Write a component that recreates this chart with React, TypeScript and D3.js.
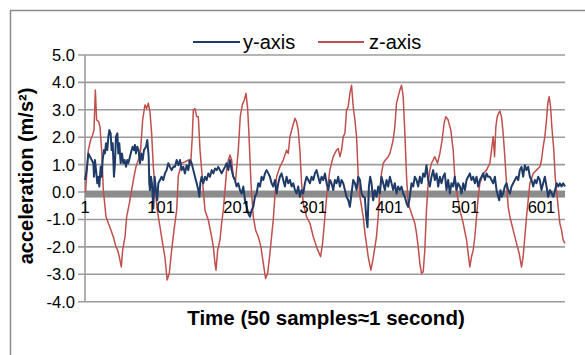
import React from "react";
import * as d3 from "d3";

// [sample index, acceleration m/s²]
const yAxisSeries: [number, number][] = [
  [1,0.44],[3.2,0.8],[5.4,1.41],[7.6,1.29],[9.8,1.17],[12,1.05],[12.8,0.56],[14.1,1.17],[15.5,0.8],[17.2,0.32],[18.5,0.56],[19.8,0.2],[21.6,0.92],[22.9,0.56],[24.2,1.17],[26,1.53],[27.3,1.41],[28.6,1.78],[30.3,1.53],[31.7,2.02],[33,2.26],[34.7,2.14],[36,1.53],[37.4,1.78],[39.1,0.56],[40.4,1.05],[41.7,2.02],[43.5,2.14],[44.8,1.41],[46.1,1.78],[47.9,1.05],[49.6,1.41],[51.4,1.05],[53.1,1.17],[54.9,0.92],[56.6,1.17],[57.9,1.05],[60.1,1.29],[62.3,1.53],[63.6,1.65],[65.4,1.53],[66.7,1.72],[68,1.41],[69.8,1.65],[71.5,1.53],[73.3,1.05],[75,1.41],[76.8,1.17],[78.5,1.53],[81.2,1.65],[82.9,1.9],[84.7,1.29],[85.5,0.32],[86.4,0.07],[87.7,0.56],[89,0.32],[90.8,-0.6],[92.5,0.56],[94.3,0.07],[96,-0.3],[97.4,0.32],[99.6,0.44],[101.7,0.56],[103.9,0.44],[106.1,0.68],[108.3,0.8],[110.5,1.05],[112.7,0.92],[114.9,0.8],[117.1,0.92],
  [119.3,0.92],[121.5,1.17],[123.7,0.98],[125.9,1.17],[128,0.8],[130.2,0.92],[132.4,0.68],[134.6,0.98],[136.8,0.8],[139,1.17],[141.2,1.05],[143.4,0.8],[145.6,0.56],[147.8,0.32],[150,0.07],[151.3,-0.17],[152.6,0.32],[154.3,0.56],[156.5,0.32],[158.7,0.56],[160.9,0.44],[163.1,0.68],[165.3,0.56],[167.5,0.8],[169.7,0.68],[171.9,0.86],[174.1,0.8],[176.2,0.92],[178.4,0.8],[180.6,0.68],[182.8,0.8],[185,0.92],[187.2,1.05],[189.4,0.8],[191.6,1.17],[193.8,0.8],[196,0.56],[198.1,0.44],[200.3,0.2],[202.5,0.32],[204.7,0.07],[206.9,-0.05],[209.1,0.2],[211.3,-0.29],[213.5,-0.54],[215.7,-0.78],[217.9,-0.9],[220,-0.66],[222.2,-0.54],[224.4,-0.17],[226.6,-0.05],[228.8,0.32],[231,0.2],[233.2,0.56],[235.4,0.44],[237.6,0.68],[239.8,0.8],[242,0.68],
  [244.1,0.56],[246.3,0.32],[248.5,0.2],[250.7,0.44],[252.9,-0.05],[255.1,0.32],[257.2,0.56],[259.4,0.68],[261.6,0.44],[263.8,0.2],[266,0.56],[268.2,0.32],[270.4,0.44],[272.6,0.2],[274.8,0.32],[277,0.07],[279.1,-0.05],[281.3,0.2],[283.5,-0.17],[285.7,0.07],[287.9,-0.05],[290.1,0.32],[292.3,0.56],[294.5,0.44],[296.7,0.32],[298.9,0.56],[301.1,0.44],[303.2,0.68],[305.4,0.8],[307.6,0.56],[309.8,0.32],[312,0.56],[314.2,0.44],[316.4,0.68],[318.6,0.32],[320.8,0.07],[323,0.44],[325.1,0.32],[327.3,0.07],[329.5,0.44],[331.7,0.32],[333.9,0.56],[336.1,0.2],[338.3,0.44],[340.5,0.32],[342.7,0.07],[344.8,-0.17],[347,-0.29],[349.2,-0.54],[351.4,-0.05],[353.6,0.44],[355.8,0.32],[358,0.07],[360.2,0.56],[362.4,0.44],[364.6,-0.05],[366.7,-0.17],
  [368.9,-0.2],[370.7,-0.9],[372.4,-1.28],[374.2,0.2],[375.9,0.56],[377.7,0.32],[379.8,-0.3],[382,0.07],[384.2,-0.17],[386.4,0.2],[388.6,-0.05],[390.8,0.56],[393,0.32],[395.2,0.07],[397.4,0.44],[399.6,0.2],[401.8,0.56],[404,0.32],[406.1,0.07],[408.3,0.32],[410.5,-0.05],[412.7,0.2],[414.9,0.07],[417.1,0.2],[419.3,-0.05],[421.5,-0.17],[423.7,-0.41],[425.8,-0.54],[428,-0.17],[430.2,0.32],[432.4,0.2],[434.6,0.56],[436.8,0.44],[439,0.2],[441.2,0.56],[443.4,0.32],[445.6,0.68],[447.7,0.56],[449.9,0.98],[452.1,0.44],[454.3,0.2],[456.5,0.56],[458.7,0.8],[460.9,0.44],[463.1,0.68],[465.3,0.2],[467.5,0.56],[469.6,0.32],[471.8,0.56],[474,0.68],[476.2,0.07],[478.4,0.44],[480.6,-0.05],[482.8,0.32],[485,0.2],[487.1,0.56],[489.3,0.07],[491.5,0.32],
  [493.8,0.2],[496,-0.05],[498.2,0.32],[500.4,0.07],[502.6,0.44],[504.7,0.56],[506.9,0.68],[509.1,0.44],[511.3,0.56],[513.5,0.32],[515.7,0.56],[517.9,0.2],[520.1,0.44],[522.3,0.56],[524.5,0.68],[526.7,0.44],[528.8,0.68],[531,0.56],[533.2,0.56],[535.4,0.44],[537.6,0.32],[539.8,0.56],[542,0.07],[544.2,-0.17],[545.5,-0.3],[547.2,0.07],[549,-0.17],[550.7,-0.05],[552.9,0.2],[555.1,0.32],[557.3,0.07],[559.5,-0.05],[561.7,0.2],[563.9,0.32],[566.1,0.44],[568.3,0.56],[570.5,0.44],[572.6,0.8],[574.8,0.92],[577,0.56],[579.2,0.98],[581.4,0.8],[583.6,0.92],[585.8,0.56],[588,0.44],[590.2,0.2],[592.4,0.44],[594.5,0.32],[596.7,0.56],[598.9,0.44],[601.1,0.07],[603.3,0.32],[605.5,0.56],[607.7,0.2],[609.9,-0.17],[612.3,0.07],[614.5,-0.05],[616.7,-0.17],[618.9,0.07],[621,0.32],[623.2,0.2],[625.2,0.32],[627.4,0.2],[629.6,0.32],[632,0.2]
];

const zAxisSeries: [number, number][] = [
  [1,0.0],[1.9,0.07],[5.4,1.53],[8.4,1.9],[11,2.08],[12.8,2.26],[14.6,3.72],[16.3,2.63],[19,2.57],[20.7,2.38],[22.9,1.53],[25.1,0.07],[28.6,-0.9],[31.7,-1.14],[35.2,-1.39],[38.2,-1.63],[41.7,-2.0],[43.9,-2.12],[46.1,-2.36],[48.7,-2.73],[50.5,-2.12],[53.6,-1.63],[55.8,-0.9],[59.3,-0.41],[62.3,0.07],[65.4,0.56],[68,0.92],[71.1,1.17],[74.1,1.53],[76.8,2.63],[79.8,3.18],[82,3.05],[84.2,3.24],[86.4,2.93],[88.6,2.14],[90.8,0.92],[93.4,0.07],[96,-0.66],[99.6,-1.27],[103,-1.87],[106,-2.36],[109,-3.21],[111.8,-2.97],[114.9,-2.12],[118,-1.39],[121.5,-0.66],
  [123.7,0.6],[128,1.05],[132.4,1.1],[136.8,1.17],[139.9,0.98],[142,2.0],[143.4,2.99],[145.6,3.05],[147.8,2.75],[150,2.75],[152.2,1.53],[156.5,0.07],[158.7,-0.66],[163.1,-1.02],[167.5,-1.63],[169.7,-2.0],[171.9,-2.6],[173.2,-2.85],[175.4,-2.12],[178.4,-1.75],[180.6,-1.14],[182.8,-0.66],[185,0.07],[187.2,0.8],[189.4,1.17],[191.6,1.35],[193.8,1.17],[196,0.56],[199,0.44],[202.5,1.53],[205.1,2.75],[207.8,3.18],[210.4,3.36],[212.6,3.6],[214.8,3.05],[216.5,2.14],[219.2,0.32],[222.2,-0.9],[225.3,-1.39],[228.8,-1.63],[232.3,-2.0],[235.4,-2.6],[238.4,-3.15],[241.1,-2.97],[244.1,-2.24],
  [248.5,-1.0],[251,0.0],[252.9,0.56],[257.2,0.92],[261.6,1.17],[266,1.53],[268.2,1.41],[270.4,2.02],[273.9,2.38],[277,2.69],[279.1,2.57],[281.3,2.26],[283.5,1.53],[285.7,0.32],[287.9,-0.41],[292.3,-0.9],[296.7,-1.14],[301.1,-1.63],[305.4,-2.0],[308.9,-2.24],[310.7,-2.36],[313.3,-1.87],[316.4,-0.9],[319.4,0.07],[322.9,0.8],[327.3,1.29],[331.7,1.53],[333.9,1.59],[336.1,1.29],[338.3,1.53],[340.5,2.02],[342.7,2.14],[344.8,2.99],[347,3.11],[349.2,3.6],[351.4,3.9],[353.6,3.11],[355.8,2.63],[358,2.02],[360.2,0.56],[362.4,-0.17],[366.7,-0.9],
  [369,-1.5],[373.3,-2.36],[376.8,-2.85],[379.8,-2.42],[384.2,-1.63],[386.4,-0.9],[388.6,0.07],[390.8,0.68],[393,1.05],[396,1.17],[399.6,1.29],[401.8,1.41],[404,1.65],[406.1,1.9],[408.3,2.38],[410.5,3.24],[412.7,3.48],[414.9,3.72],[417.1,3.9],[419.3,3.48],[421.5,2.14],[423.7,0.56],[425.8,-0.41],[430.2,-0.78],[434.6,-1.14],[436.8,-1.51],[439,-2.0],[441.2,-2.6],[443.4,-2.97],[445.6,-2.91],[447.7,-2.12],[449.9,-0.66],[452.1,0.32],[454.3,0.8],[456.5,1.05],[458.7,1.17],[460.9,1.29],[464.4,1.05],[467.5,1.41],[470.5,1.9],[473.1,2.51],[475.3,2.75],[478.4,2.63],[481.9,2.26],[485,1.53],[487.1,0.56],[490.7,-0.17],[493.8,-0.66],
  [498.2,-1.14],[502.6,-1.75],[504.7,-2.24],[506.9,-2.73],[509.1,-2.36],[511.3,-2.12],[513.5,-1.63],[515.7,-0.9],[517.9,-0.17],[520.1,0.32],[524.5,0.68],[528.8,0.8],[533.2,1.05],[535.4,1.53],[537.6,2.02],[539.4,1.29],[541.1,2.38],[542.9,2.75],[544.6,2.87],[546.4,2.96],[548.5,2.75],[550.7,2.14],[552.9,1.29],[555.1,0.32],[557.3,-0.54],[559.5,-0.9],[563.9,-1.39],[568.3,-1.87],[571.8,-2.24],[574.8,-2.73],[577,-2.36],[579.2,-1.63],[581.4,-0.9],[583.6,-0.29],[585.8,0.32],[590.2,0.68],[594.5,0.8],[598.9,0.92],[601.1,1.17],[603.3,1.65],[605.5,2.02],[607.7,2.63],[609.4,3.24],[611.2,3.48],[613,3.11],[614.7,2.38],[617.3,1.53],[619.1,0.56],[620.8,0.07],[623,-0.54],[625.2,-1.14],[627.4,-1.39],[629.6,-1.75],[632,-1.87]
];

const xTickSamples = [1, 101, 201, 301, 401, 501, 601];
const yTickValues = [5, 4, 3, 2, 1, 0, -1, -2, -3, -4];
const seriesNames = ["y-axis", "z-axis"];
const sampleDomain = [1, 632];
const valueDomain = [-4, 5];

const W = 585, H = 355;
const L = 85, R = 565, T = 55, B = 301.7;
const BLUE = "#1f3b68";
const RED = "#c0504d";
const GRID = "#9c9c9c";
const FONT = "Arial, 'Liberation Sans', sans-serif";

export default function App() {
  const x = d3.scaleLinear().domain(sampleDomain).range([L, R]);
  const y = d3.scaleLinear().domain(valueDomain).range([B, T]);
  const line = d3.line<[number, number]>().x(d => x(d[0])).y(d => y(d[1]));
  const y0 = y(0);

  return (
    <svg width={W} height={H} style={{ position: "absolute", left: 0, top: 0, background: "#fff" }}
      xmlns="http://www.w3.org/2000/svg">
      <rect x={10.5} y={10.5} width={700} height={500} fill="#fff" stroke="#8a8a8a" strokeWidth={1.5} />
      {yTickValues.map(v => (
        <line key={v} x1={L - 7} x2={R} y1={y(v)} y2={y(v)} stroke={GRID} strokeWidth={1.6} />
      ))}
      <line x1={L} x2={L} y1={T} y2={B} stroke={GRID} strokeWidth={1.6} />
      <rect x={L} y={y0 - 1.5} width={R - L} height={7} fill="#8c8c8c" />
      {yTickValues.map(v => (
        <text key={v} x={75} y={y(v)} dy="0.36em" textAnchor="end" fontFamily={FONT} fontSize={16.5} fill="#000">
          {v.toFixed(1)}
        </text>
      ))}
      <path d={line(zAxisSeries) || ""} fill="none" stroke={RED} strokeWidth={1.5} strokeLinejoin="round" />
      <path d={line(yAxisSeries) || ""} fill="none" stroke={BLUE} strokeWidth={2} strokeLinejoin="round" />
      {xTickSamples.map(s => (
        <text key={s} x={x(s)} y={213} textAnchor="middle" fontFamily={FONT} fontSize={16.5} fill="#000">
          {s}
        </text>
      ))}
      <line x1={193} x2={240} y1={42} y2={42} stroke={BLUE} strokeWidth={2} />
      <text x={243} y={48.5} fontFamily={FONT} fontSize={20} fill="#000">{seriesNames[0]}</text>
      <line x1={318} x2={364} y1={42} y2={42} stroke={RED} strokeWidth={2} />
      <text x={369} y={48.5} fontFamily={FONT} fontSize={20} fill="#000">{seriesNames[1]}</text>
      <text transform="translate(33,176) rotate(-90)" textAnchor="middle" fontFamily={FONT} fontSize={20}
        fontWeight="bold" fill="#000">acceleration (m/s²)</text>
      <text x={326} y={325} textAnchor="middle" fontFamily={FONT} fontSize={20.5} fontWeight="bold" fill="#000">
        Time (50 samples≈1 second)
      </text>
    </svg>
  );
}
